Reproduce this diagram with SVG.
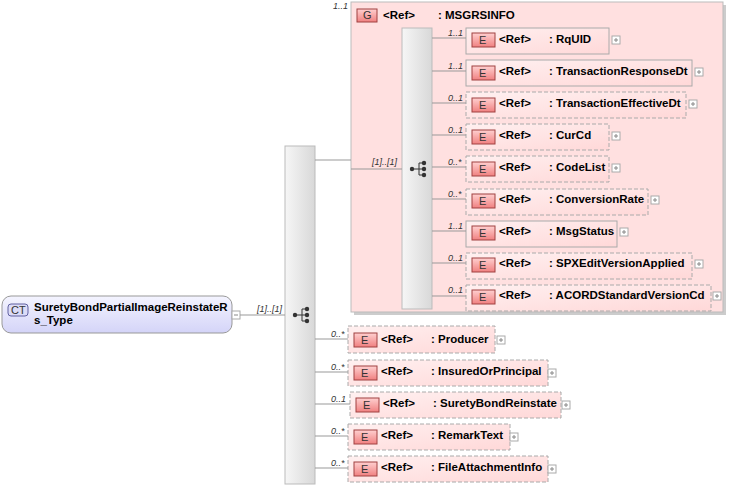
<svg xmlns="http://www.w3.org/2000/svg" width="731" height="488" viewBox="0 0 731 488">
<defs>
<linearGradient id="bar" x1="0" x2="1" y1="0" y2="0"><stop offset="0" stop-color="#f6f6f6"/><stop offset="1" stop-color="#d8d8d8"/></linearGradient>
<linearGradient id="el" x1="0" x2="1" y1="0" y2="1"><stop offset="0" stop-color="#fff0f0"/><stop offset="1" stop-color="#ffd8d8"/></linearGradient>
<linearGradient id="badge" x1="0" x2="0" y1="0" y2="1"><stop offset="0" stop-color="#ffd0d0"/><stop offset="1" stop-color="#f08080"/></linearGradient>
<linearGradient id="ct" x1="0" x2="0" y1="0" y2="1"><stop offset="0" stop-color="#f4f4ff"/><stop offset="1" stop-color="#d4d4f8"/></linearGradient>
<g id="seq"><line x1="-5" y1="0" x2="2" y2="0" stroke="#333"/><circle cx="-5" cy="0" r="2.2" fill="#333"/><path d="M2,-6 V6 M2,-6 H6 M2,0 H6 M2,6 H6" stroke="#333" fill="none"/><circle cx="7" cy="-6" r="2.2" fill="#333"/><circle cx="7" cy="0" r="2.2" fill="#333"/><circle cx="7" cy="6" r="2.2" fill="#333"/></g>
<g id="plus"><rect x="0" y="-4" width="8" height="8" fill="#fff" stroke="#aaa"/><path d="M2,0 H6 M4,-2 V2" stroke="#888"/></g>
</defs>
<style>
text{font-family:"Liberation Sans",Arial,sans-serif;font-size:11.5px;fill:#000}
.b{font-weight:bold}
.m{font-style:italic;font-size:9px;fill:#333}
.box{fill:url(#el);stroke:#aaa}
.d{stroke-dasharray:4,2}
.bd{fill:url(#badge);stroke:#a04040}
.bt{font-size:11px;fill:#333}
.c{stroke:#999;fill:none}
</style>
<g id="ct-node">
<rect x="2" y="296" width="230" height="37" rx="9" fill="url(#ct)" stroke="#999"/>
<rect x="8" y="304" width="20" height="12" rx="3" fill="#dcdcf8" stroke="#6060a0"/>
<text x="11" y="314" class="bt">CT</text>
<text class="b" x="34" y="311">SuretyBondPartialImageReinstateR</text>
<text class="b" x="34" y="324">s_Type</text>
<rect x="232" y="311" width="8" height="8" fill="#fff" stroke="#aaa"/><line x1="234" y1="315" x2="238" y2="315" stroke="#888"/>
</g>
<g id="main-seq">
<rect x="285" y="146" width="30" height="338" fill="url(#bar)" stroke="#bbb"/>
<use href="#seq" x="300" y="315"/>
</g>
<g id="MSGRSINFO">
<rect x="354" y="5" width="372" height="310" fill="#ccc"/>
<rect x="351" y="2" width="372" height="310" fill="#ffe0e0" stroke="#bbb"/>
<rect x="357" y="9" width="20" height="13" class="bd"/><text x="363" y="19" class="bt">G</text>
<text class="b" x="383" y="19">&lt;Ref&gt;</text><text class="b" x="438" y="19">: MSGRSINFO</text>
<rect x="402" y="28" width="30" height="281" fill="url(#bar)" stroke="#bbb"/>
<use href="#seq" x="417" y="169"/>
</g>
<g id="RqUID"><text class="m" x="448" y="36">1..1</text><rect class="box" x="466" y="28" width="143" height="26"/><rect class="bd" x="472" y="33" width="23" height="14"/><text class="bt" x="479" y="44">E</text><text class="b" x="499" y="43">&lt;Ref&gt;</text><text class="b" x="549" y="43">: RqUID</text><use href="#plus" x="612" y="40"/></g>
<g id="TransactionResponseDt"><text class="m" x="448" y="69">1..1</text><rect class="box" x="466" y="60" width="226" height="26"/><rect class="bd" x="472" y="66" width="23" height="14"/><text class="bt" x="479" y="77">E</text><text class="b" x="499" y="75">&lt;Ref&gt;</text><text class="b" x="549" y="75">: TransactionResponseDt</text><use href="#plus" x="695" y="72"/></g>
<g id="TransactionEffectiveDt"><text class="m" x="448" y="101">0..1</text><rect class="box d" x="466" y="92" width="220" height="26"/><rect class="bd" x="472" y="98" width="23" height="14"/><text class="bt" x="479" y="109">E</text><text class="b" x="499" y="107">&lt;Ref&gt;</text><text class="b" x="549" y="107">: TransactionEffectiveDt</text><use href="#plus" x="689" y="104"/></g>
<g id="CurCd"><text class="m" x="448" y="133">0..1</text><rect class="box d" x="466" y="124" width="143" height="26"/><rect class="bd" x="472" y="130" width="23" height="14"/><text class="bt" x="479" y="141">E</text><text class="b" x="499" y="139">&lt;Ref&gt;</text><text class="b" x="549" y="139">: CurCd</text><use href="#plus" x="612" y="136"/></g>
<g id="CodeList"><text class="m" x="448" y="165">0..*</text><rect class="box d" x="466" y="156" width="143" height="26"/><rect class="bd" x="472" y="162" width="23" height="14"/><text class="bt" x="479" y="173">E</text><text class="b" x="499" y="171">&lt;Ref&gt;</text><text class="b" x="549" y="171">: CodeList</text><use href="#plus" x="612" y="168"/></g>
<g id="ConversionRate"><text class="m" x="448" y="197">0..*</text><rect class="box d" x="466" y="189" width="182" height="26"/><rect class="bd" x="472" y="194" width="23" height="14"/><text class="bt" x="479" y="205">E</text><text class="b" x="499" y="203">&lt;Ref&gt;</text><text class="b" x="549" y="203">: ConversionRate</text><use href="#plus" x="651" y="200"/></g>
<g id="MsgStatus"><text class="m" x="448" y="229">1..1</text><rect class="box" x="466" y="221" width="151" height="26"/><rect class="bd" x="472" y="226" width="23" height="14"/><text class="bt" x="479" y="237">E</text><text class="b" x="499" y="235">&lt;Ref&gt;</text><text class="b" x="549" y="235">: MsgStatus</text><use href="#plus" x="620" y="232"/></g>
<g id="SPXEditVersionApplied"><text class="m" x="448" y="261">0..1</text><rect class="box d" x="466" y="253" width="226" height="26"/><rect class="bd" x="472" y="258" width="23" height="14"/><text class="bt" x="479" y="269">E</text><text class="b" x="499" y="267">&lt;Ref&gt;</text><text class="b" x="549" y="267">: SPXEditVersionApplied</text><use href="#plus" x="695" y="264"/></g>
<g id="ACORDStandardVersionCd"><text class="m" x="448" y="293">0..1</text><rect class="box d" x="466" y="285" width="245" height="26"/><rect class="bd" x="472" y="290" width="23" height="14"/><text class="bt" x="479" y="301">E</text><text class="b" x="499" y="299">&lt;Ref&gt;</text><text class="b" x="549" y="299">: ACORDStandardVersionCd</text><use href="#plus" x="713" y="296"/></g>
<g id="Producer"><text class="m" x="331" y="337">0..*</text><rect class="box d" x="348" y="326" width="147" height="27"/><rect class="bd" x="354" y="333" width="23" height="14"/><text class="bt" x="361" y="344">E</text><text class="b" x="381" y="343">&lt;Ref&gt;</text><text class="b" x="431" y="343">: Producer</text><use href="#plus" x="497" y="340"/></g>
<g id="InsuredOrPrincipal"><text class="m" x="331" y="370">0..*</text><rect class="box d" x="348" y="360" width="200" height="26"/><rect class="bd" x="354" y="366" width="23" height="14"/><text class="bt" x="361" y="377">E</text><text class="b" x="381" y="375">&lt;Ref&gt;</text><text class="b" x="431" y="375">: InsuredOrPrincipal</text><use href="#plus" x="548" y="373"/></g>
<g id="SuretyBondReinstate"><text class="m" x="331" y="402">0..1</text><rect class="box d" x="350" y="392" width="211" height="26"/><rect class="bd" x="356" y="398" width="23" height="14"/><text class="bt" x="363" y="409">E</text><text class="b" x="383" y="407">&lt;Ref&gt;</text><text class="b" x="433" y="407">: SuretyBondReinstate</text><use href="#plus" x="562" y="405"/></g>
<g id="RemarkText"><text class="m" x="331" y="434">0..*</text><rect class="box d" x="348" y="424" width="162" height="26"/><rect class="bd" x="354" y="430" width="23" height="14"/><text class="bt" x="361" y="441">E</text><text class="b" x="381" y="439">&lt;Ref&gt;</text><text class="b" x="431" y="439">: RemarkText</text><use href="#plus" x="510" y="437"/></g>
<g id="FileAttachmentInfo"><text class="m" x="331" y="466">0..*</text><rect class="box d" x="348" y="456" width="200" height="26"/><rect class="bd" x="354" y="462" width="23" height="14"/><text class="bt" x="361" y="473">E</text><text class="b" x="381" y="471">&lt;Ref&gt;</text><text class="b" x="431" y="471">: FileAttachmentInfo</text><use href="#plus" x="548" y="469"/></g>
<g id="connectors">
<line class="c" x1="240" y1="315" x2="285" y2="315"/>
<line class="c" x1="315" y1="160" x2="351" y2="160"/>
<line class="c" x1="351" y1="169" x2="402" y2="169"/>
<path class="c" d="M432,38H466M432,71H466M432,103H466M432,135H466M432,167H466M432,199H466M432,231H466M432,263H466M432,296H466"/>
<path class="c" d="M315,339H348M315,372H348M315,404H350M315,436H348M315,468H348"/>
<text class="m" x="257" y="312">[1]..[1]</text>
<text class="m" x="372" y="165">[1]..[1]</text>
<text class="m" x="333" y="9">1..1</text>
</g>
</svg>
